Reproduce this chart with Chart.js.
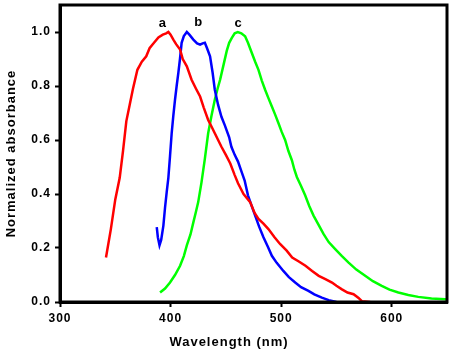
<!DOCTYPE html>
<html>
<head>
<meta charset="utf-8">
<script src="https://cdn.jsdelivr.net/npm/chart.js@4/dist/chart.umd.min.js"></script>
<style>
  html, body { margin: 0; padding: 0; background: #fff; }
  #wrap { width: 455px; height: 353px; }
</style>
</head>
<body>
<div id="wrap"><canvas id="absChart" width="455" height="353"></canvas></div>
<script>
// Sample data
const xTicks = [300, 400, 500, 600];
const yTicks = [0.0, 0.2, 0.4, 0.6, 0.8, 1.0];

const waveA = [341.6, 346, 350, 354, 357, 360, 363, 366, 370, 374, 378, 381, 385, 389, 393, 396, 398, 400, 402.5, 405, 408.6, 411, 414.7, 419, 423, 426.7, 430, 434, 437, 440, 443, 446, 450, 454, 458, 461, 466, 472, 476, 479.5, 484, 488.5, 494, 499, 505, 510, 516, 522, 528, 534, 540, 546, 550, 555, 560, 565.5, 570, 573, 580.5];
const absA = [0.165, 0.27, 0.38, 0.46, 0.56, 0.67, 0.73, 0.79, 0.86, 0.89, 0.91, 0.94, 0.96, 0.98, 0.99, 0.995, 1.0, 0.99, 0.972, 0.955, 0.935, 0.9, 0.873, 0.823, 0.79, 0.761, 0.72, 0.674, 0.65, 0.625, 0.6, 0.575, 0.545, 0.513, 0.47, 0.44, 0.4, 0.37, 0.33, 0.308, 0.29, 0.27, 0.24, 0.215, 0.19, 0.165, 0.15, 0.134, 0.115, 0.097, 0.085, 0.072, 0.06, 0.047, 0.035, 0.029, 0.015, 0.003, 0.0];

const waveB = [387.5, 388.5, 390, 391.5, 393.5, 395, 396.5, 398, 399.5, 401, 402.5, 404, 405.5, 407, 408.5, 410, 412, 414.7, 417, 420.6, 424, 426.7, 429, 431, 433, 435.7, 438, 440, 443, 446, 449, 453, 455, 458, 461, 464, 467, 470, 473, 476.5, 480, 484, 488, 491.6, 496, 502, 507, 512.7, 518, 524.7, 530, 536.8, 543, 550];
const absB = [0.277, 0.24, 0.21, 0.23, 0.283, 0.35, 0.407, 0.46, 0.54, 0.625, 0.69, 0.749, 0.8, 0.848, 0.9, 0.96, 0.985, 1.0, 0.99, 0.972, 0.958, 0.953, 0.958, 0.96, 0.94, 0.91, 0.85, 0.786, 0.73, 0.686, 0.655, 0.61, 0.575, 0.545, 0.52, 0.485, 0.45, 0.395, 0.36, 0.32, 0.28, 0.24, 0.205, 0.171, 0.145, 0.115, 0.092, 0.072, 0.055, 0.041, 0.028, 0.016, 0.007, 0.0];

const waveC = [390.5, 395, 399.5, 404, 408.6, 412, 414.7, 418, 420.6, 423, 425, 428, 431, 434, 437, 440, 442.5, 444.8, 448, 450.8, 453, 455.4, 458, 460.8, 464, 467.4, 470, 473.5, 476.5, 479.5, 482.5, 485.5, 488.5, 491.6, 494.5, 497.6, 500.5, 503.6, 506.5, 509.7, 512, 514.2, 518, 521.7, 525.5, 529.3, 534, 538.3, 543, 548.9, 555, 561, 568, 576, 583, 591, 598, 606, 615, 624, 636, 648.4, 650];
const absC = [0.035, 0.05, 0.072, 0.1, 0.134, 0.17, 0.21, 0.25, 0.295, 0.335, 0.37, 0.444, 0.53, 0.625, 0.69, 0.749, 0.79, 0.823, 0.88, 0.93, 0.96, 0.978, 0.995, 1.0, 0.995, 0.984, 0.96, 0.922, 0.89, 0.86, 0.82, 0.786, 0.755, 0.724, 0.695, 0.662, 0.63, 0.6, 0.56, 0.525, 0.49, 0.463, 0.43, 0.395, 0.355, 0.32, 0.285, 0.252, 0.222, 0.196, 0.17, 0.146, 0.12, 0.097, 0.077, 0.06, 0.046, 0.035, 0.026, 0.019, 0.013, 0.01, 0.01];

const curveLabels = ['a', 'b', 'c'];
const labelX = [392.6, 425, 461];
const labelY = [1.032, 1.036, 1.032];

const toPoints = (xs, ys) => xs.map((x, i) => ({ x: x, y: ys[i] }));

const fontFamily = '"Liberation Sans", Arial, sans-serif';

// Frame + curve letters + x title; slight letter spacing like the original
const framePlugin = {
    id: 'frame',
    beforeDraw(chart) {
        chart.ctx.letterSpacing = '1px';
    },
    afterDraw(chart) {
        const ctx = chart.ctx;
        const a = chart.chartArea;
        const xs = chart.scales.x;
        const ys = chart.scales.y;
        ctx.save();
        ctx.strokeStyle = '#000';
        ctx.lineWidth = 3;
        ctx.strokeRect(a.left, a.top, a.right - a.left, a.bottom - a.top);

        ctx.fillStyle = '#000';
        ctx.font = 'bold 13px ' + fontFamily;
        ctx.textAlign = 'center';
        ctx.textBaseline = 'middle';
        ctx.letterSpacing = '0px';
        curveLabels.forEach((t, i) => {
            ctx.fillText(t, xs.getPixelForValue(labelX[i]), ys.getPixelForValue(labelY[i]));
        });

        ctx.font = 'bold 13px ' + fontFamily;
        ctx.letterSpacing = '1px';
        ctx.fillText('Wavelength (nm)', 229, 342);
        ctx.restore();
        ctx.letterSpacing = '0px';
    }
};

const tickFont = { family: fontFamily, size: 12, weight: 'bold' };

const absConfig = {
    type: 'line',
    data: {
        datasets: [
            { label: 'a', data: toPoints(waveA, absA), borderColor: '#ff0000' },
            { label: 'b', data: toPoints(waveB, absB), borderColor: '#0000ff' },
            { label: 'c', data: toPoints(waveC, absC), borderColor: '#00ff00' }
        ]
    },
    options: {
        responsive: false,
        animation: false,
        parsing: false,
        elements: {
            line: { borderWidth: 2.5, tension: 0, fill: false },
            point: { radius: 0 }
        },
        layout: { padding: { top: 5, right: 8, left: 0, bottom: 0 } },
        plugins: {
            legend: { display: false },
            tooltip: { enabled: false }
        },
        scales: {
            x: {
                type: 'linear',
                min: 300,
                max: 650,
                afterFit(scale) { scale.height = 51; scale.paddingLeft = 0; scale.paddingRight = 0; },
                afterBuildTicks(scale) { scale.ticks = xTicks.map(v => ({ value: v })); },
                grid: { drawOnChartArea: false, drawTicks: true, tickLength: 5, tickWidth: 2, tickColor: '#000' },
                border: { display: true, color: '#000', width: 3 },
                ticks: { color: '#000', font: tickFont, padding: 4, maxRotation: 0 },
                title: { display: false }
            },
            y: {
                type: 'linear',
                min: 0,
                max: 1.1,
                afterFit(scale) { scale.width = 60; scale.paddingTop = 0; scale.paddingBottom = 0; },
                afterBuildTicks(scale) { scale.ticks = yTicks.map(v => ({ value: v })); },
                grid: { drawOnChartArea: false, drawTicks: true, tickLength: 5, tickWidth: 2, tickColor: '#000' },
                border: { display: true, color: '#000', width: 3 },
                ticks: {
                    color: '#000', font: tickFont, padding: 4,
                    callback: v => v.toFixed(1)
                },
                title: {
                    display: true,
                    text: 'Normalized absorbance',
                    color: '#000',
                    font: { family: fontFamily, size: 13, weight: 'bold' },
                    padding: { top: 4, bottom: 0 }
                }
            }
        }
    },
    plugins: [framePlugin]
};

window.onload = function() {
    const absCtx = document.getElementById('absChart').getContext('2d');
    new Chart(absCtx, absConfig);
};
</script>
</body>
</html>
